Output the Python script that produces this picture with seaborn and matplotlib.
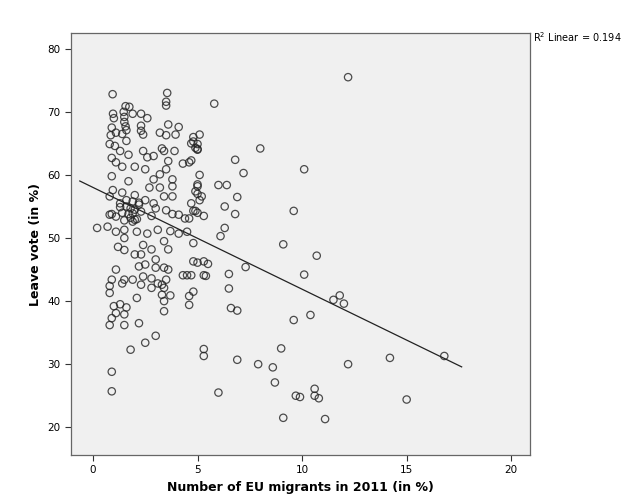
import numpy as np
import pandas as pd
import seaborn as sns
import matplotlib.pyplot as plt

# EU migrants 2011 (%) vs Leave vote (%)
migrants = [
    0.94, 3.55, 3.5, 3.5, 1.56, 1.74, 1.47, 1.9, 2.3, 0.96, 1.0, 1.5, 1.5, 2.6, 3.6, 4.1,
    2.3, 1.56, 1.6, 0.9, 1.1, 1.4, 0.85, 2.3, 2.4, 3.2, 3.5, 3.95, 5.1, 4.8, 5.0, 5.0,
    1.6, 0.8, 1.05, 3.3, 3.4, 3.9, 2.4, 1.3, 0.9, 1.7, 2.6, 2.9, 3.6, 4.3, 4.7, 3.5,
    1.1, 1.4, 2.0, 2.5, 3.2, 3.8, 2.9, 0.9, 1.7, 5.0, 4.9, 3.8, 3.2, 2.7, 0.95, 1.4,
    2.0, 5.2, 4.7, 4.8, 3.8, 3.4, 2.9, 2.5, 0.8, 1.3, 1.8, 0.8, 1.1, 3.0, 3.5, 4.1, 4.4,
    1.4, 1.6, 1.8, 2.0, 2.2, 1.5, 1.7, 1.9, 2.1, 2.3, 1.6, 2.0, 1.3, 1.9, 2.2,
    0.9, 1.9, 2.8, 3.8, 4.6, 4.9, 0.7, 1.1, 1.5, 2.1, 2.6, 3.1, 3.7, 4.1, 4.5, 4.8,
    1.2, 1.5, 2.0, 2.4, 2.8, 3.0, 3.4, 3.6, 1.5, 2.3, 1.1, 0.9, 1.5, 2.2, 2.5, 3.0,
    3.4, 3.6, 2.4, 2.8, 3.5, 4.8, 5.0, 5.3, 4.3, 4.5, 4.7, 5.3, 0.8, 1.4, 1.9, 2.3,
    2.8, 3.1, 3.3, 3.4, 3.7, 3.3, 3.4, 2.1, 4.8, 4.6, 4.6, 1.0, 1.3, 1.6, 1.1, 1.5,
    0.9, 3.4, 1.5, 2.2, 2.5, 3.0, 5.3, 0.9, 0.9, 0.2, 0.8, 0.8, 1.8,
    5.8, 8.0, 6.8, 7.2, 6.0, 6.4, 6.3, 6.9, 6.8, 6.3, 6.1, 10.1, 12.2, 9.6, 10.7, 9.1,
    7.3, 6.5, 10.1, 11.8, 11.5, 12.0, 10.4, 9.6, 6.5, 6.6, 6.9, 5.5, 5.4, 5.3, 6.9, 7.9,
    8.6, 9.0, 8.7, 12.2, 14.2, 16.8, 6.0, 9.7, 9.9, 10.6, 10.6, 10.8, 15.0, 9.1, 11.1,
    5.1, 5.0, 5.0, 5.0, 5.3, 5.1, 5.0, 4.7, 4.8, 4.9, 4.6,
]
leave = [
    72.8, 73.0, 71.6, 71.0, 70.9, 70.8, 70.0, 69.7, 69.7, 69.7, 69.0, 69.2, 68.4, 69.0, 68.0, 67.6,
    67.8, 67.7, 67.1, 67.5, 66.7, 66.5, 66.3, 67.0, 66.4, 66.7, 66.3, 66.4, 66.4, 65.3, 64.9, 64.1,
    65.4, 64.9, 64.6, 64.2, 63.8, 63.8, 63.8, 63.8, 62.7, 63.2, 62.8, 63.0, 62.2, 61.8, 62.3, 60.9,
    62.0, 61.3, 61.3, 60.9, 60.1, 59.3, 59.3, 59.8, 59.0, 58.2, 57.4, 58.2, 58.0, 58.0, 57.6, 57.2,
    56.8, 56.6, 55.5, 54.3, 56.6, 56.6, 55.5, 56.0, 56.6, 55.5, 54.7, 53.7, 53.4, 54.7, 54.4, 53.7, 53.1,
    54.0, 55.0, 53.2, 54.5, 55.3, 52.8, 53.8, 55.8, 53.0, 54.2, 56.0, 52.9, 54.9, 52.6, 55.6,
    53.8, 53.9, 53.5, 53.8, 53.1, 54.3, 51.8, 51.0, 51.3, 51.0, 50.7, 51.3, 51.1, 50.7, 51.0, 49.2,
    48.6, 48.1, 47.4, 48.9, 48.2, 46.6, 49.5, 48.2, 50.0, 47.4, 45.0, 43.4, 43.4, 45.5, 45.8, 45.3,
    45.3, 45.0, 43.9, 43.6, 43.4, 46.3, 46.1, 46.3, 44.1, 44.1, 44.1, 44.1, 42.4, 42.8, 43.4, 42.6,
    42.1, 42.8, 42.6, 42.1, 40.9, 41.0, 40.0, 40.5, 41.5, 40.8, 39.4, 39.2, 39.5, 39.0, 38.1, 37.9,
    37.3, 38.4, 36.2, 36.5, 33.4, 34.5, 32.4, 28.8, 25.7, 51.6, 41.3, 36.2, 32.3,
    71.3, 64.2, 62.4, 60.3, 58.4, 58.4, 55.0, 56.5, 53.8, 51.6, 50.3, 60.9, 75.5, 54.3, 47.2, 49.0,
    45.4, 44.3, 44.2, 40.9, 40.2, 39.6, 37.8, 37.0, 42.0, 38.9, 38.5, 45.9, 44.0, 31.3, 30.7, 30.0,
    29.5, 32.5, 27.1, 30.0, 31.0, 31.3, 25.5, 25.0, 24.8, 26.1, 25.0, 24.6, 24.4, 21.5, 21.3,
    60.0, 57.0, 58.5, 54.0, 53.5, 56.0, 64.0, 65.0, 66.0, 64.3, 62.0,
]
r2_text = "R$^2$ Linear = 0.194"

df = pd.DataFrame({"migrants": migrants, "leave": leave})

fig = plt.figure(figsize=(6.31, 4.98), dpi=100)
ax = fig.add_axes([0.1125, 0.0863, 0.7275, 0.8474])
ax.set_facecolor("#f0f0f0")

sns.regplot(data=df, x="migrants", y="leave", ax=ax, ci=None, truncate=False,
            scatter_kws=dict(s=28, facecolors="none", edgecolors="#222222", linewidths=0.9),
            line_kws=dict(color="#222222", lw=0.9))

ax.set_xlim(-1.05, 20.9)
ax.set_ylim(15.6, 82.5)
ax.set_xticks([0, 5, 10, 15, 20])
ax.set_yticks([20, 30, 40, 50, 60, 70, 80])
ax.tick_params(labelsize=7.5, length=4, width=0.8, color="#333333")
ax.set_xlabel("Number of EU migrants in 2011 (in %)", fontsize=9, fontweight="bold")
ax.set_ylabel("Leave vote (in %)", fontsize=9, fontweight="bold")
for s in ax.spines.values():
    s.set_color("#666666")
    s.set_linewidth(0.9)

fig.text(0.845, 0.925, r2_text, fontsize=7, va="center")

fig.savefig("out.png", dpi=100, facecolor="white")
